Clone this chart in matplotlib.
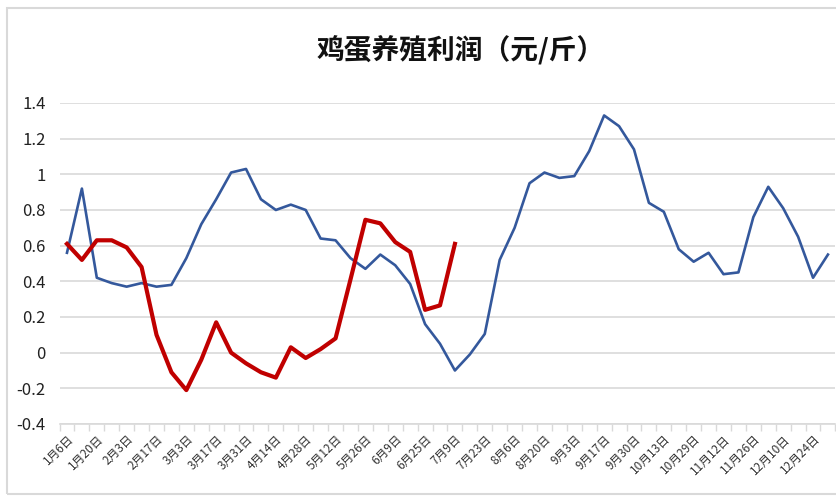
import numpy as np
import matplotlib
matplotlib.use('Agg')
import matplotlib.pyplot as plt
from matplotlib.patches import Rectangle

plt.rcParams['font.family'] = ['Noto Sans CJK SC', 'DejaVu Sans']

# weekly categories (label on every other week)
tick_labels = ['1月6日', '1月20日', '2月3日', '2月17日', '3月3日', '3月17日',
               '3月31日', '4月14日', '4月28日', '5月12日', '5月26日', '6月9日',
               '6月25日', '7月9日', '7月23日', '8月6日', '8月20日', '9月3日',
               '9月17日', '9月30日', '10月13日', '10月29日', '11月12日',
               '11月26日', '12月10日', '12月24日']

# last year's profit (blue), 52 weeks
profit_prev = [0.56, 0.92, 0.42, 0.39, 0.37, 0.39, 0.37, 0.38, 0.53, 0.72,
               0.86, 1.01, 1.03, 0.86, 0.80, 0.83, 0.80, 0.64, 0.63, 0.53,
               0.47, 0.55, 0.49, 0.385, 0.16, 0.05, -0.10, -0.01, 0.105, 0.52,
               0.70, 0.95, 1.01, 0.98, 0.99, 1.13, 1.33, 1.27, 1.14, 0.84,
               0.79, 0.58, 0.51, 0.56, 0.44, 0.45, 0.76, 0.93, 0.81, 0.65,
               0.42, 0.55]

# this year's profit (red), first 27 weeks
profit_curr = [0.61, 0.52, 0.63, 0.63, 0.59, 0.48, 0.10, -0.11, -0.21, -0.04,
               0.17, 0.0, -0.06, -0.11, -0.14, 0.03, -0.03, 0.02, 0.08, 0.41,
               0.745, 0.725, 0.62, 0.565, 0.24, 0.265, 0.61]

yticks = [-0.4, -0.2, 0, 0.2, 0.4, 0.6, 0.8, 1, 1.2, 1.4]
ytick_labels = ['-0.4', '-0.2', '0', '0.2', '0.4', '0.6', '0.8', '1', '1.2', '1.4']

C_BLUE = '#34589C'
C_RED = '#C00000'
C_GRID = '#D9D9D9'

fig = plt.figure(figsize=(8.37, 4.97), dpi=100)
ax = fig.add_axes([0.0711, 0.1469, 0.9270, 0.6459])

x_prev = np.arange(len(profit_prev))
x_curr = np.arange(len(profit_curr))
ax.plot(x_prev, profit_prev, color=C_BLUE, lw=1.9, zorder=3)
ax.plot(x_curr, profit_curr, color=C_RED, lw=3.0, zorder=4)

ax.set_xlim(-0.5, len(profit_prev) - 0.5)
ax.set_ylim(-0.4, 1.4)

ax.set_yticks(yticks)
ax.set_yticklabels(ytick_labels, fontsize=12, color='#222222')
ax.tick_params(axis='y', length=0, pad=10)
ax.yaxis.grid(True, color=C_GRID, lw=1.2)
ax.set_axisbelow(True)

ax.set_xticks(np.arange(0, len(profit_prev), 2))
ax.set_xticklabels(tick_labels, rotation=45, ha='right',
                   rotation_mode='anchor', fontsize=8.5, color='#333333')
ax.set_xticks(np.arange(len(profit_prev) + 1) - 0.5, minor=True)
ax.tick_params(axis='x', which='major', length=0, pad=6)
ax.tick_params(axis='x', which='minor', length=5, color=C_GRID, width=1)

for side in ('top', 'right', 'left'):
    ax.spines[side].set_visible(False)
ax.spines['bottom'].set_color(C_GRID)
ax.spines['bottom'].set_linewidth(1.2)

fig.text(0.55, 0.897, '鸡蛋养殖利润（元/斤）', ha='center', va='center',
         fontsize=20, fontweight='bold', color='#111111')

# chart frame
fig.patches.append(Rectangle((7 / 837, 3 / 497), 1.2, 1 - 11 / 497,
                             transform=fig.transFigure, fill=False,
                             edgecolor=C_GRID, lw=1.5))

fig.savefig('out.png', dpi=100)
